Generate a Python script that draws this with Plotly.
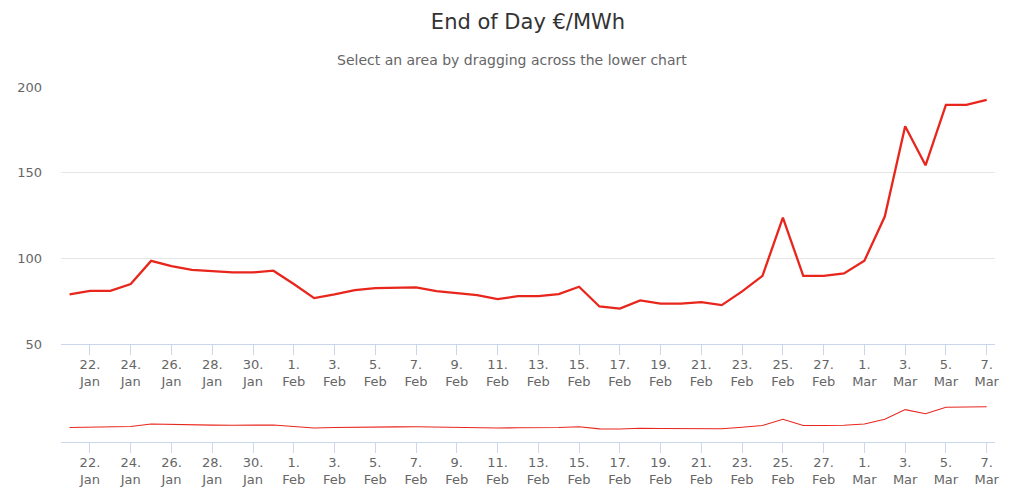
import pandas as pd
import plotly.graph_objects as go

# ---- data ----
start_date = "2022-01-21"
end_date = "2022-03-07"
prices = [
    79, 81, 81, 85, 98.5, 95.5, 93.2, 92.4, 91.8, 91.8, 92.8,            # Jan 21-31
    85, 76.8, 78.9, 81.4, 82.6, 82.6, 83, 80.9, 79.9, 78.5, 76.2, 77.9,   # Feb 1-12
    77.9, 79.1, 83.4, 71.9, 70.7, 75.4, 73.6, 73.6, 74.4, 72.7, 80.7,     # Feb 13-23
    89.8, 123.8, 89.8, 89.8, 91.2,                                        # Feb 24-28
    98.6, 124.4, 177.1, 154.3, 189.6, 189.6, 192.5,                       # Mar 1-7
]
tick_dates = ["2022-01-22", "2022-01-24", "2022-01-26", "2022-01-28", "2022-01-30",
              "2022-02-01", "2022-02-03", "2022-02-05", "2022-02-07", "2022-02-09",
              "2022-02-11", "2022-02-13", "2022-02-15", "2022-02-17", "2022-02-19",
              "2022-02-21", "2022-02-23", "2022-02-25", "2022-02-27", "2022-03-01",
              "2022-03-03", "2022-03-05", "2022-03-07"]
tick_labels = ["22.<br>Jan", "24.<br>Jan", "26.<br>Jan", "28.<br>Jan", "30.<br>Jan",
               "1.<br>Feb", "3.<br>Feb", "5.<br>Feb", "7.<br>Feb", "9.<br>Feb",
               "11.<br>Feb", "13.<br>Feb", "15.<br>Feb", "17.<br>Feb", "19.<br>Feb",
               "21.<br>Feb", "23.<br>Feb", "25.<br>Feb", "27.<br>Feb", "1.<br>Mar",
               "3.<br>Mar", "5.<br>Mar", "7.<br>Mar"]
y_ticks = [50, 100, 150, 200]

dates = pd.date_range(start_date, end_date, freq="D")

# ---- style ----
LINE = "#e8261c"
AXIS = "#ccd6eb"
GRID = "#e6e6e6"
TXT = "#666666"
FONT = "DejaVu Sans"

W, H = 1024, 490
L, R, T, B = 61, 29, 87, 48
PH = H - T - B
AX_BOTTOM = H - B

fig = go.Figure()
fig.add_trace(go.Scatter(x=dates, y=prices, mode="lines",
                         line=dict(color=LINE, width=2.3), xaxis="x", yaxis="y",
                         hoverinfo="x+y", showlegend=False))
fig.add_trace(go.Scatter(x=dates, y=prices, mode="lines",
                         line=dict(color=LINE, width=1.1), xaxis="x2", yaxis="y2",
                         hoverinfo="skip", showlegend=False))

x_range = [pd.Timestamp(start_date) - pd.Timedelta(hours=10.1),
           pd.Timestamp(end_date) + pd.Timedelta(hours=9.8)]

xcommon = dict(type="date", range=x_range, tickmode="array",
               tickvals=pd.to_datetime(tick_dates), ticktext=tick_labels,
               showgrid=False, zeroline=False, showline=True, linecolor=AXIS,
               linewidth=1, ticks="outside", ticklen=10, tickcolor=AXIS, tickwidth=1,
               automargin=False, ticklabelstandoff=-2,
               tickfont=dict(family=FONT, size=13, color=TXT), fixedrange=True)

fig.update_layout(
    width=W, height=H,
    margin=dict(l=L, r=R, t=T, b=B, autoexpand=False),
    paper_bgcolor="white", plot_bgcolor="white",
    font=dict(family=FONT, color=TXT),
    title=dict(text="End of Day €/MWh", x=512 / W, xanchor="center",
               y=1 - 22 / H, yanchor="middle", xref="paper", automargin=False,
               font=dict(family=FONT, size=21, color="#333333")),
    annotations=[dict(text="Select an area by dragging across the lower chart",
                      xref="paper", yref="paper", x=(512 - L) / (W - L - R),
                      y=(AX_BOTTOM - 60) / PH, xanchor="center", yanchor="middle",
                      showarrow=False, font=dict(family=FONT, size=14, color=TXT))],
    xaxis=dict(**xcommon, anchor="y", domain=[0, 1]),
    xaxis2=dict(**xcommon, anchor="y2", domain=[0, 1]),
    yaxis=dict(domain=[(AX_BOTTOM - 344) / PH, 1], range=[50, 200], tickvals=y_ticks,
               showgrid=True, gridcolor=GRID, gridwidth=1, zeroline=False,
               showline=False, ticks="", ticklabelstandoff=18, automargin=False,
               tickfont=dict(family=FONT, size=13, color=TXT), fixedrange=True),
    yaxis2=dict(domain=[0, (AX_BOTTOM - 405.4) / PH], range=[0, 200], showgrid=False,
                zeroline=False, showline=False, showticklabels=False, ticks="",
                automargin=False, fixedrange=True),
    hovermode="x",
)

fig.write_html("out.html", config={"displayModeBar": False},
               post_script="document.body.style.margin='0';"
                           "document.body.style.overflow='hidden';")
